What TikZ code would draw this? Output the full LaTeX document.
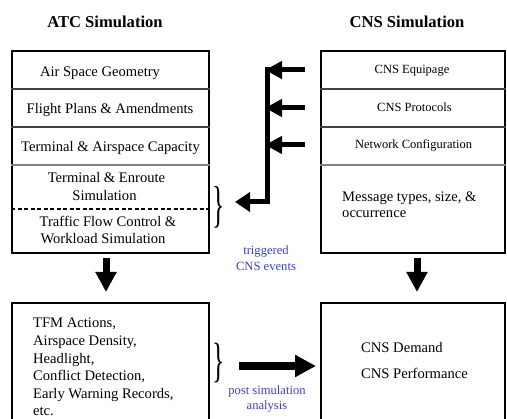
\documentclass[tikz,border=0pt]{standalone}
\usepackage{fontspec}
\usepackage{graphicx}
\setmainfont{Liberation Serif}
\usetikzlibrary{arrows.meta}
\definecolor{lblblue}{RGB}{60,60,215}
\begin{document}
\begin{tikzpicture}[x=1pt,y=-1pt,
  box/.style={draw,line width=1.8pt,inner sep=0pt},
  title/.style={font=\fontsize{16.6}{18}\selectfont\bfseries,inner sep=0pt,anchor=base},
  rowtxt/.style={font=\fontsize{14.6}{17}\selectfont,inner sep=0pt,anchor=base},
  smalltxt/.style={font=\fontsize{12.5}{15}\selectfont,inner sep=0pt,anchor=base},
  note/.style={font=\fontsize{12.6}{15}\selectfont,text=lblblue,inner sep=0pt,anchor=base},
  bracetxt/.style={font=\fontsize{30}{30}\selectfont,inner sep=0pt},
  dotdiv/.style={black!75,line width=1.4pt},
  graydiv/.style={gray,line width=2pt},
  dashdiv/.style={black,line width=1.8pt,dash pattern=on 4pt off 2.5pt},
  smallarr/.style={line width=5pt,-{Triangle[length=17pt,width=17pt]}},
  bendarr/.style={line width=5pt,line join=miter,-{Triangle[length=15pt,width=19pt]}},
  downarr/.style={line width=7pt,-{Triangle[length=20pt,width=20pt]}},
  bigarr/.style={line width=8pt,-{Triangle[length=21pt,width=21pt]}}
]
\useasboundingbox (0,0) rectangle (507,419);
\clip (0,0) rectangle (507,419);

% titles
\node[title] (atctitle) at (105,28) {ATC Simulation};
\node[title] (cnstitle) at (407,28) {CNS Simulation};

% top boxes
\node[box,minimum width=197pt,minimum height=202pt] (atcbox) at (110.5,152) {};
\node[box,minimum width=184pt,minimum height=202pt] (cnsbox) at (413,152) {};

% dividers left
\draw[dotdiv] (atcbox.west |- 0,89) -- (atcbox.east |- 0,89);
\draw[dotdiv] (atcbox.west |- 0,127) -- (atcbox.east |- 0,127);
\draw[graydiv] (atcbox.west |- 0,165) -- (atcbox.east |- 0,165);
\draw[dashdiv] (atcbox.west |- 0,209) -- (atcbox.east |- 0,209);
% dividers right
\draw[dotdiv] (cnsbox.west |- 0,89) -- (cnsbox.east |- 0,89);
\draw[dotdiv] (cnsbox.west |- 0,127) -- (cnsbox.east |- 0,127);
\draw[graydiv] (cnsbox.west |- 0,165) -- (cnsbox.east |- 0,165);

% left rows
\node[rowtxt] (r1) at (100,77) {Air Space Geometry};
\node[rowtxt] (r2) at (110,114) {Flight Plans \& Amendments};
\node[rowtxt] (r3) at (110.5,152) {Terminal \& Airspace Capacity};
\node[rowtxt] (r4a) at (106.5,183) {Terminal \& Enroute};
\node[rowtxt] (r4b) at (104.5,201) {Simulation};
\node[rowtxt] (r5a) at (108,227) {Traffic Flow Control \&};
\node[rowtxt] (r5b) at (103,244) {Workload Simulation};

% right rows
\node[smalltxt] (c1) at (412,74) {CNS Equipage};
\node[smalltxt] (c2) at (414.5,112) {CNS Protocols};
\node[smalltxt] (c3) at (413.5,149) {Network Configuration};
\node[rowtxt,anchor=base west] (c4a) at (342,202) {Message types, size, \&};
\node[rowtxt,anchor=base west] (c4b) at (342,218) {occurrence};

% arrows from CNS rows
\coordinate (s1) at (305,70);  \coordinate (t1) at (265,70);
\coordinate (s2) at (305,108); \coordinate (t2) at (265,108);
\coordinate (s3) at (305,145); \coordinate (t3) at (265,145);
\draw[smallarr] (s1) -- (t1);
\draw[smallarr] (s2) -- (t2);
\draw[smallarr] (s3) -- (t3);
\coordinate (vtop) at (267.5,67.5);
\coordinate (vcorner) at (267.5,202);
\coordinate (btip) at (235,202);
\draw[bendarr] (vtop) -- (vcorner) -- (btip);

% braces
\node[bracetxt] (brace1) at (219,207) {\scalebox{0.85}[1.68]{\}}};
\node[bracetxt] (brace2) at (219,363) {\scalebox{0.85}[1.6]{\}}};

% blue labels
\node[note] (trig1) at (266,255) {triggered};
\node[note] (trig2) at (266,271) {CNS events};
\node[note] (post1) at (267,395) {post simulation};
\node[note] (post2) at (267,410) {analysis};

% bottom boxes
\node[box,minimum width=197pt,minimum height=140pt] (resbox) at (110.5,373) {};
\node[box,minimum width=184pt,minimum height=140pt] (perfbox) at (413,373) {};

% down arrows
\coordinate (d1s) at (106,258); \coordinate (d1t) at (106,292);
\coordinate (d2s) at (417,258); \coordinate (d2t) at (417,292);
\draw[downarr] (d1s) -- (d1t);
\draw[downarr] (d2s) -- (d2t);

% big arrow
\coordinate (bs) at (239,366); \coordinate (bt) at (316,366);
\draw[bigarr] (bs) -- (bt);

% bottom texts
\node[rowtxt,anchor=base west] (b1) at (33,328) {TFM Actions,};
\node[rowtxt,anchor=base west] (b2) at (33,345.6) {Airspace Density,};
\node[rowtxt,anchor=base west] (b3) at (33,363.2) {Headlight,};
\node[rowtxt,anchor=base west] (b4) at (33,380.8) {Conflict Detection,};
\node[rowtxt,anchor=base west] (b5) at (33,398.4) {Early Warning Records,};
\node[rowtxt,anchor=base west] (b6) at (33,416) {etc.};

\node[rowtxt,anchor=base west] (p1) at (361,353) {CNS Demand};
\node[rowtxt,anchor=base west] (p2) at (361,379) {CNS Performance};
\end{tikzpicture}
\end{document}
